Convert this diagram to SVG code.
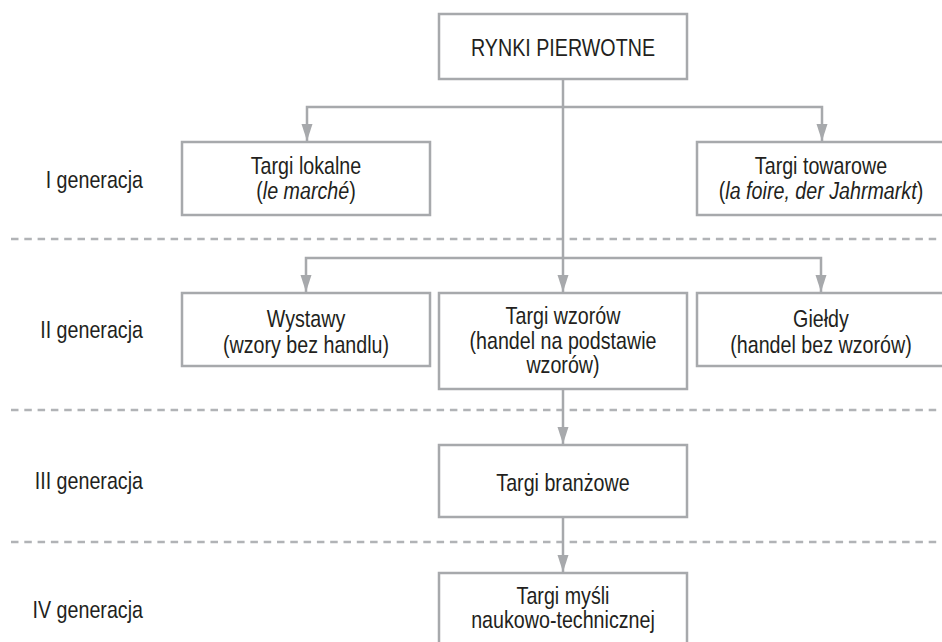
<svg xmlns="http://www.w3.org/2000/svg" width="942" height="642" viewBox="0 0 942 642">
<style>
  .box { fill: #ffffff; stroke: #a7a9ac; stroke-width: 2.5; }
  .conn { fill: none; stroke: #a7a9ac; stroke-width: 2.5; }
  .sep { fill: none; stroke: #b1b3b6; stroke-width: 2.5; stroke-dasharray: 7.5 5.8; }
  text { font-family: "Liberation Sans", Arial, sans-serif; font-size: 24px; fill: #231f20; }
  .c { text-anchor: middle; }
  .lbl { text-anchor: end; }
  .it { font-style: italic; }
</style>
<defs>
  <marker id="arr" markerUnits="userSpaceOnUse" markerWidth="18" markerHeight="12" refX="17" refY="6" orient="auto">
    <path d="M0,0.5 L17,6 L0,11.5 z" fill="#a7a9ac"/>
  </marker>
</defs>
<rect width="942" height="642" fill="#ffffff"/>

<g id="separators">
  <line class="sep" x1="11" y1="239" x2="942" y2="239"/>
  <line class="sep" x1="11" y1="410" x2="942" y2="410"/>
  <line class="sep" x1="11" y1="542" x2="942" y2="542"/>
</g>

<g id="labels">
  <text class="lbl" transform="translate(143 188) scale(0.82 1)">I generacja</text>
  <text class="lbl" transform="translate(143 338) scale(0.82 1)">II generacja</text>
  <text class="lbl" transform="translate(143 489) scale(0.82 1)">III generacja</text>
  <text class="lbl" transform="translate(143 618) scale(0.82 1)">IV generacja</text>
</g>

<g id="connectors">
  <path class="conn" d="M563,79 V292" marker-end="url(#arr)"/>
  <path class="conn" d="M563,107 H307 V141" marker-end="url(#arr)"/>
  <path class="conn" d="M563,107 H822 V141" marker-end="url(#arr)"/>
  <path class="conn" d="M563,258 H306 V292" marker-end="url(#arr)"/>
  <path class="conn" d="M563,258 H821 V292" marker-end="url(#arr)"/>
  <path class="conn" d="M563,389 V444" marker-end="url(#arr)"/>
  <path class="conn" d="M563,517 V572" marker-end="url(#arr)"/>
</g>

<g id="rynki">
  <rect class="box" x="439" y="14" width="248" height="65"/>
  <text class="c" transform="translate(563 56) scale(0.82 1)">RYNKI PIERWOTNE</text>
</g>

<g id="targi-lokalne">
  <rect class="box" x="182" y="142" width="248" height="73"/>
  <text class="c" transform="translate(306 174) scale(0.82 1)">Targi lokalne</text>
  <text class="c" transform="translate(306 199) scale(0.82 1)">(<tspan class="it">le marché</tspan>)</text>
</g>

<g id="targi-towarowe">
  <rect class="box" x="697" y="142" width="248" height="73"/>
  <text class="c" transform="translate(821 174) scale(0.82 1)">Targi towarowe</text>
  <text class="c" transform="translate(821 199) scale(0.82 1)">(<tspan class="it">la foire, der Jahrmarkt</tspan>)</text>
</g>

<g id="wystawy">
  <rect class="box" x="182" y="293" width="248" height="73"/>
  <text class="c" transform="translate(306 327) scale(0.82 1)">Wystawy</text>
  <text class="c" transform="translate(306 353) scale(0.82 1)">(wzory bez handlu)</text>
</g>

<g id="targi-wzorow">
  <rect class="box" x="439" y="293" width="248" height="96"/>
  <text class="c" transform="translate(563 324) scale(0.82 1)">Targi wzorów</text>
  <text class="c" transform="translate(563 349) scale(0.82 1)">(handel na podstawie</text>
  <text class="c" transform="translate(563 373) scale(0.82 1)">wzorów)</text>
</g>

<g id="gieldy">
  <rect class="box" x="697" y="293" width="248" height="73"/>
  <text class="c" transform="translate(821 327) scale(0.82 1)">Giełdy</text>
  <text class="c" transform="translate(821 353) scale(0.82 1)">(handel bez wzorów)</text>
</g>

<g id="targi-branzowe">
  <rect class="box" x="439" y="445" width="248" height="72"/>
  <text class="c" transform="translate(563 491) scale(0.82 1)">Targi branżowe</text>
</g>

<g id="targi-mysli">
  <rect class="box" x="439" y="573" width="248" height="80"/>
  <text class="c" transform="translate(563 604) scale(0.82 1)">Targi myśli</text>
  <text class="c" transform="translate(563 628) scale(0.82 1)">naukowo-technicznej</text>
</g>
</svg>
